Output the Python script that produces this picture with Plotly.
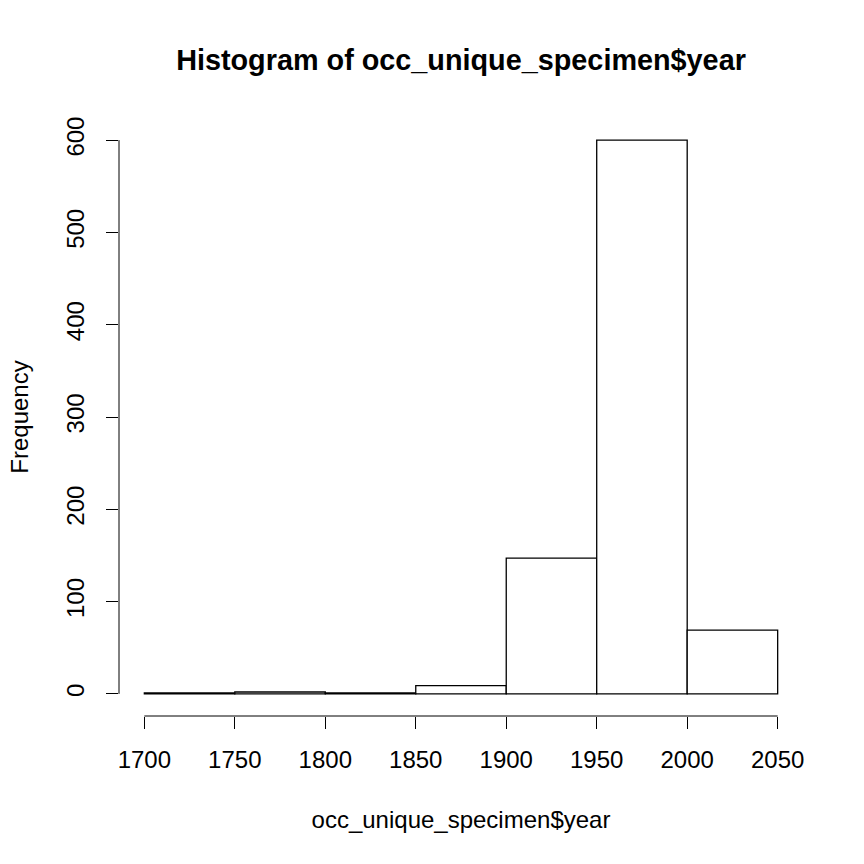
import plotly.graph_objects as go

bin_edges = [1700, 1750, 1800, 1850, 1900, 1950, 2000, 2050]
counts = [1, 2, 1, 9, 147, 600, 69]
x_ticks = [1700, 1750, 1800, 1850, 1900, 1950, 2000, 2050]
y_ticks = [0, 100, 200, 300, 400, 500, 600]

centers = [(bin_edges[i] + bin_edges[i + 1]) / 2 for i in range(len(counts))]
widths = [bin_edges[i + 1] - bin_edges[i] for i in range(len(counts))]

fig = go.Figure(go.Bar(
    x=centers, y=counts, width=widths,
    marker=dict(color="white", line=dict(color="black", width=1.3)),
))

xpad = (x_ticks[-1] - x_ticks[0]) * 0.04
ypad = (y_ticks[-1] - y_ticks[0]) * 0.04
font = "Liberation Sans, Arial, sans-serif"

fig.update_layout(
    width=864, height=864,
    margin=dict(l=119, r=61, t=118, b=148),
    plot_bgcolor="white", paper_bgcolor="white",
    showlegend=False,
    font=dict(family=font, color="black", size=24),
    title=dict(text="<b>Histogram of occ_unique_specimen$year</b>",
               x=0.5 * (119 + 803) / 864, xanchor="center",
               y=1 - 60 / 864, yanchor="middle",
               font=dict(size=28.8, family=font)),
    xaxis=dict(range=[x_ticks[0] - xpad, x_ticks[-1] + xpad],
               tickvals=x_ticks, ticktext=[str(v) for v in x_ticks],
               ticks="outside", ticklen=12, tickwidth=1, tickcolor="black",
               showgrid=False, zeroline=False, showline=False,
               ticklabelstandoff=10,
               tickfont=dict(size=24),
               title=dict(text="occ_unique_specimen$year", standoff=39,
                          font=dict(size=24))),
    yaxis=dict(range=[y_ticks[0] - ypad, y_ticks[-1] + ypad],
               tickvals=y_ticks, ticktext=[str(v) for v in y_ticks],
               ticks="outside", ticklen=12, tickwidth=1, tickcolor="black",
               tickangle=-90,
               showgrid=False, zeroline=False, showline=False,
               ticklabelstandoff=12,
               tickfont=dict(size=24),
               title=dict(text="Frequency", standoff=27,
                          font=dict(size=24))),
)

# R-style axis lines spanning the first to last tick
fig.add_shape(type="line", xref="x", yref="paper",
              x0=x_ticks[0], x1=x_ticks[-1], y0=0, y1=0,
              line=dict(color="black", width=1))
fig.add_shape(type="line", xref="paper", yref="y",
              x0=0, x1=0, y0=y_ticks[0], y1=y_ticks[-1],
              line=dict(color="black", width=1))

fig.write_html("out.html")
